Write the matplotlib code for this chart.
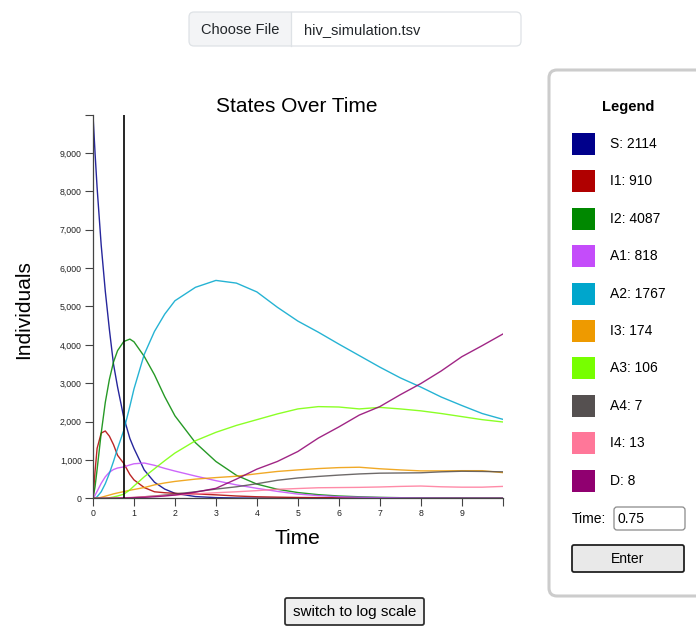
"""States-over-time chart for the HIV compartment simulation (hiv_simulation.tsv), page-style layout."""
import numpy as np
import matplotlib
matplotlib.use("Agg")
import matplotlib.pyplot as plt
from matplotlib.patches import FancyBboxPatch, Rectangle
from matplotlib.ticker import FuncFormatter

plt.rcParams["font.family"] = ["Liberation Sans", "DejaVu Sans"]

W, H = 696, 628
SEL_TIME = 0.75

# time grid and compartment counts
T = [0, 0.05, 0.1, 0.2, 0.3, 0.4, 0.5, 0.6, 0.75, 0.9, 1.0, 1.25, 1.5, 1.75, 2.0, 2.5,
     3.0, 3.5, 4.0, 4.5, 5.0, 5.5, 6.0, 6.5, 7.0, 7.5, 8.0, 8.5, 9.0, 9.5, 10.0]
S = [10000, 9000, 8100, 6600, 5400, 4400, 3500, 2900, 2114, 1560, 1300, 740, 420, 240, 130, 45,
     18, 8, 4, 2, 1, 0, 0, 0, 0, 0, 0, 0, 0, 0, 0]
I1 = [0, 700, 1300, 1700, 1755, 1620, 1400, 1120, 910, 620, 480, 280, 170, 145, 130, 115,
      90, 60, 40, 30, 22, 18, 14, 11, 9, 7, 6, 5, 4, 3, 3]
I2 = [0, 300, 750, 1700, 2500, 3100, 3550, 3850, 4087, 4150, 4080, 3700, 3220, 2650, 2150, 1450,
      960, 600, 370, 235, 150, 95, 60, 40, 25, 16, 10, 7, 5, 3, 2]
A1 = [0, 80, 180, 390, 560, 680, 750, 790, 818, 870, 900, 920, 860, 780, 710, 580,
      460, 350, 260, 180, 110, 70, 42, 28, 18, 12, 8, 6, 4, 3, 2]
A2 = [0, 10, 40, 170, 380, 650, 960, 1300, 1767, 2400, 2850, 3750, 4350, 4800, 5150, 5500,
      5680, 5610, 5380, 4980, 4620, 4330, 4020, 3720, 3420, 3140, 2900, 2640, 2420, 2210, 2060]
I3 = [0, 0, 5, 25, 55, 85, 115, 140, 174, 210, 230, 280, 350, 400, 440, 500,
      540, 575, 640, 700, 740, 775, 800, 810, 770, 740, 715, 715, 720, 720, 670]
A3 = [0, 0, 0, 0, 0, 15, 35, 60, 106, 220, 320, 560, 770, 980, 1180, 1500,
      1720, 1900, 2050, 2200, 2330, 2390, 2380, 2330, 2370, 2330, 2280, 2210, 2130, 2050, 1990]
A4 = [0, 0, 0, 0, 0, 0, 1, 3, 7, 14, 20, 40, 60, 85, 110, 170,
      240, 300, 380, 470, 530, 570, 605, 635, 655, 660, 665, 690, 705, 700, 690]
I4 = [0, 0, 0, 1, 2, 3, 5, 8, 13, 20, 25, 40, 55, 70, 85, 115,
      145, 170, 200, 235, 255, 275, 280, 285, 295, 310, 320, 300, 290, 290, 310]
D = [0, 0, 0, 0, 0, 1, 2, 4, 8, 12, 15, 25, 40, 60, 85, 160,
     260, 500, 760, 960, 1220, 1570, 1860, 2170, 2390, 2700, 2990, 3320, 3690, 3980, 4280]

STATES = ["S", "I1", "I2", "A1", "A2", "I3", "A3", "A4", "I4", "D"]
SERIES = [S, I1, I2, A1, A2, I3, A3, A4, I4, D]
COLORS = ["#00008b", "#b00000", "#008800", "#c44cfa", "#00a6cc",
          "#ee9a00", "#77ff00", "#555050", "#ff7799", "#900070"]
X_TICKS = list(range(0, 10))
Y_TICKS = list(range(0, 10000, 1000))


def main():
    fig = plt.figure(figsize=(W / 100, H / 100), dpi=100)

    # page layer in pixel coordinates (y grows downwards)
    ui = fig.add_axes([0, 0, 1, 1], zorder=0)
    ui.set_xlim(0, W); ui.set_ylim(H, 0); ui.axis("off")

    # file chooser
    ui.add_patch(FancyBboxPatch((189, 12), 102, 34, boxstyle="round,pad=0,rounding_size=5",
                                fc="#f3f4f6", ec="none"))
    ui.add_patch(Rectangle((260, 12), 31, 34, fc="#f3f4f6", ec="none"))
    ui.add_patch(FancyBboxPatch((189, 12), 332, 34, boxstyle="round,pad=0,rounding_size=5",
                                fc="none", ec="#dee2e6", lw=0.9))
    ui.plot([291, 291], [12, 46], color="#dee2e6", lw=0.9)
    ui.text(240, 30, "Choose File", ha="center", va="center", fontsize=10.5, color="#212529")
    ui.text(304, 30, "hiv_simulation.tsv", ha="left", va="center", fontsize=10.5, color="#212529")

    # legend panel
    ui.add_patch(FancyBboxPatch((549, 70), 170, 526, boxstyle="round,pad=0,rounding_size=8",
                                fc="white", ec="#cccccc", lw=2.2))
    ui.text(628, 107, "Legend", ha="center", va="center", fontsize=10.5, fontweight="bold")
    for i, (name, vals, col) in enumerate(zip(STATES, SERIES, COLORS)):
        cy = 144 + 37.4 * i
        ui.add_patch(Rectangle((572, cy - 11), 23, 22, fc=col, ec="none"))
        val = int(round(np.interp(SEL_TIME, T, vals)))
        ui.text(610, cy, f"{name}: {val}", ha="left", va="center", fontsize=10)
    ui.text(572, 519, "Time:", ha="left", va="center", fontsize=10)
    ui.add_patch(FancyBboxPatch((614, 507), 71, 23, boxstyle="round,pad=0,rounding_size=3",
                                fc="white", ec="#8a8a8a", lw=0.9))
    ui.text(618, 519, f"{SEL_TIME:g}", ha="left", va="center", fontsize=10)
    ui.add_patch(FancyBboxPatch((572, 545), 112, 27, boxstyle="round,pad=0,rounding_size=2",
                                fc="#e9e9e9", ec="#222222", lw=1.3))
    ui.text(628, 559, "Enter", ha="center", va="center", fontsize=10)

    # log-scale toggle
    ui.add_patch(FancyBboxPatch((285, 598), 139, 27, boxstyle="round,pad=0,rounding_size=2",
                                fc="#efefef", ec="#333333", lw=1.3))
    ui.text(354.5, 612, "switch to log scale", ha="center", va="center", fontsize=11)

    # the chart itself
    ax = fig.add_axes([93 / W, 1 - 498.3 / H, 409.7 / W, 383.6 / H], zorder=1)
    ax.patch.set_alpha(0)
    for vals, col in zip(SERIES, COLORS):
        ax.plot(T, vals, color=col, lw=1.0, alpha=0.85)
    ax.axvline(SEL_TIME, color="black", lw=1.2)
    ax.set_xlim(0, 10); ax.set_ylim(0, 10000)
    ax.set_xticks(X_TICKS); ax.set_yticks(Y_TICKS)
    ax.set_xticks([10], minor=True); ax.set_yticks([10000], minor=True)
    ax.yaxis.set_major_formatter(FuncFormatter(lambda v, _: f"{int(v):,}"))
    ax.tick_params(which="both", length=6, width=0.8, color="#444444",
                   labelsize=6.3, pad=2, labelcolor="#222222")
    for s in ("top", "right"):
        ax.spines[s].set_visible(False)
    for s in ("left", "bottom"):
        ax.spines[s].set_color("#444444"); ax.spines[s].set_linewidth(0.9)

    fig.text(297 / W, 1 - 106 / H, "States Over Time", ha="center", va="center", fontsize=15)
    fig.text(297 / W, 1 - 538 / H, "Time", ha="center", va="center", fontsize=15)
    fig.text(24 / W, 1 - 310 / H, "Individuals", ha="center", va="center", fontsize=15, rotation=90)

    fig.savefig("out.png", dpi=100)


if __name__ == "__main__":
    main()
